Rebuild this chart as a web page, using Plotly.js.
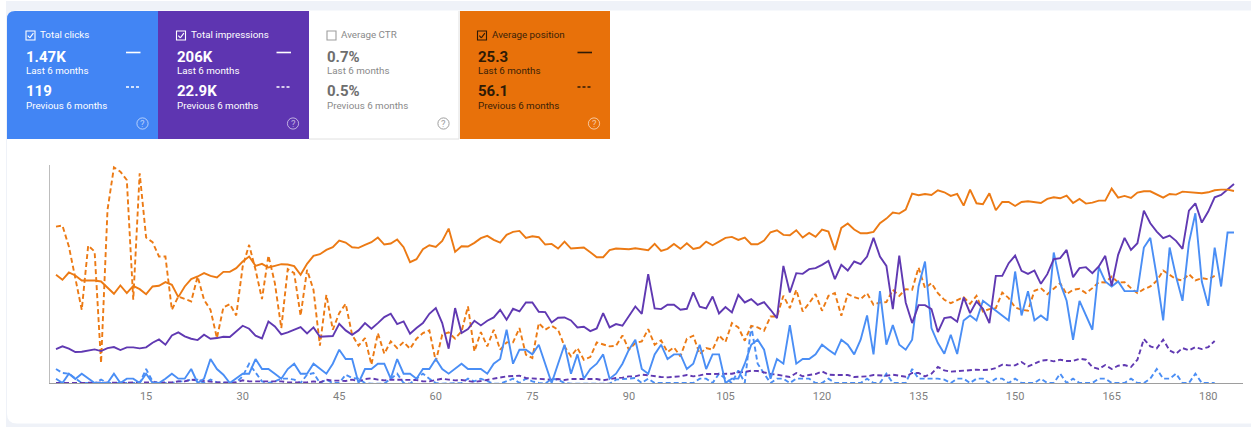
<!DOCTYPE html>
<html>
<head>
<meta charset="utf-8">
<script src="https://cdn.plot.ly/plotly-3.0.1.min.js"></script>
<style>html,body{margin:0;padding:0;background:#fff;overflow:hidden}#chart{width:1251px;height:427px}</style>
</head>
<body>
<div id="chart"></div>
<script>
// Values, on the hidden y axis (which runs downward: 670 = the baseline).
const days = Array.from({length: 184}, (_, i) => i + 1);
const tickValues = [15,30,45,60,75,90,105,120,135,150,165,180];

const positionLast = [
345,360,338,347,362,362,362,365,385,402,377,400,378,388,403,380,378,367,375,412,380,358,350,340,348,353,336,336,325,305,290,318,312,323,318,313,314,319,345,312,288,283,270,262,242,
248,262,264,255,247,233,254,251,239,262,307,298,268,256,261,243,206,276,259,260,249,235,228,240,248,225,216,213,234,229,232,254,252,266,245,266,265,263,277,292,292,271,266,267,268,
265,267,271,252,273,267,252,267,250,267,263,245,256,245,234,231,240,233,253,253,242,217,211,225,226,211,233,219,231,209,215,270,204,191,209,220,220,216,190,176,158,161,149,101,106,102,105,
91,97,108,102,137,89,130,133,100,151,126,126,138,126,124,126,129,117,112,115,107,129,117,131,128,122,122,86,113,108,114,98,94,94,103,113,102,104,95,97,100,100,97,91,89,89,93];

const positionPrevious = [
200,197,260,350,450,257,275,610,150,22,35,60,420,40,233,247,290,290,450,410,418,425,350,420,450,535,443,433,467,320,255,330,418,287,370,505,328,340,468,330,390,558,405,510,460,
432,525,558,535,615,520,582,545,565,547,567,537,520,512,605,525,518,537,515,440,575,517,560,510,570,548,548,505,585,595,490,510,498,510,560,590,565,600,592,548,555,560,558,527,570,
550,545,508,555,542,577,563,590,537,528,583,565,570,527,547,490,503,543,498,503,513,470,470,408,445,390,455,430,403,453,408,400,468,403,412,418,400,435,428,427,390,408,388,390,323,385,370,
400,420,430,420,412,432,408,455,448,445,398,415,443,450,453,393,385,403,385,370,403,390,387,400,385,367,368,350,368,367,385,400,388,380,363,332,345,358,362,343,362,355,358,348];

const impressionsLast = [
568,560,567,577,576,572,569,574,565,562,571,563,563,566,563,549,539,555,527,518,530,537,541,525,537,535,531,532,514,498,507,528,536,485,500,524,518,510,502,521,503,531,531,529,492,
512,525,512,490,507,490,472,462,493,485,522,505,490,462,445,490,567,445,520,508,483,497,483,473,450,480,447,455,428,428,456,457,488,474,473,482,503,501,514,506,460,503,493,498,470,
440,462,343,446,448,435,435,450,447,398,441,446,410,461,442,458,405,428,418,435,427,450,475,318,398,340,342,328,325,315,303,358,315,332,305,313,290,234,290,318,448,287,428,490,436,436,448,
517,475,472,486,413,460,425,447,490,348,348,310,287,333,342,332,372,343,298,295,270,352,325,322,340,320,288,378,285,234,270,250,152,190,215,235,227,243,267,152,130,188,155,112,105,88,72];

const impressionsPrevious = [
670,670,670,670,670,670,670,670,670,670,670,670,670,670,670,670,670,670,668,665,665,660,662,665,665,668,668,668,668,662,665,665,665,665,665,665,668,668,668,668,665,668,660,663,663,
664,660,665,658,656,660,662,660,660,661,662,661,665,665,661,657,660,662,661,664,667,664,660,656,652,650,649,648,655,656,657,658,660,658,661,658,658,658,656,658,662,658,655,654,650,
650,645,647,650,652,653,652,650,646,650,647,643,643,643,642,642,638,637,633,634,638,643,645,648,652,640,650,646,643,635,645,646,646,646,652,651,650,646,648,648,645,647,651,640,640,650,642,
622,632,636,634,632,630,630,631,630,625,615,617,617,607,620,612,603,601,605,600,604,604,597,600,622,628,616,628,618,616,622,600,538,560,566,540,572,582,565,572,562,568,562,544];

const clicksLast = [
657,670,642,658,642,657,670,670,670,642,670,657,657,670,642,670,670,657,642,657,657,628,670,657,598,628,645,670,657,642,642,598,628,628,642,657,628,612,642,642,612,628,642,612,570,
598,598,670,628,628,612,612,657,598,642,642,657,628,628,598,628,642,628,612,628,628,628,642,612,598,510,612,570,570,584,555,612,670,612,555,642,584,657,628,612,584,657,642,612,570,
540,628,642,584,555,598,584,584,628,612,555,628,584,584,670,657,657,612,555,540,570,657,598,612,496,612,598,598,584,555,570,584,540,555,584,540,467,584,394,555,496,555,570,540,380,305,505,
550,582,525,583,482,467,482,423,438,452,467,482,335,467,394,482,467,482,278,370,423,540,423,467,510,322,365,380,365,394,394,394,263,234,350,482,263,350,423,249,160,365,438,263,380,218,218];

const clicksPrevious = [
628,640,642,655,670,670,670,660,670,670,670,670,670,670,628,665,670,670,670,665,665,660,660,670,660,668,670,670,668,650,612,640,665,670,665,657,657,660,670,645,640,670,660,670,670,
645,655,657,670,672,672,672,657,642,670,672,657,642,657,670,672,672,672,670,657,665,657,665,672,672,665,657,670,657,665,670,672,657,660,670,672,672,672,672,672,672,672,660,658,655,
655,670,657,670,670,670,670,670,670,670,657,657,670,642,657,670,632,670,498,612,642,670,657,657,670,657,657,657,670,670,657,670,670,670,670,670,657,670,670,642,670,670,670,628,657,657,657,
657,660,670,657,657,670,657,657,670,657,657,670,657,670,670,670,657,670,670,642,670,657,670,670,670,657,657,670,670,670,657,670,670,657,628,657,657,642,670,670,642,670,670,670];

const tileNames = ["Total clicks","Total impressions","Average CTR","Average position"];
const tileLast = ["1.47K","206K","0.7%","25.3"];
const tilePrevious = ["119","22.9K","0.5%","56.1"];
const periodLast = "Last 6 months";
const periodPrevious = "Previous 6 months";

const BLUE="#4285f4", PURPLE="#5e35b1", ORANGE="#e8710a";
const W=1251, H=427;
const px=x=>x/W, py=y=>1-y/H;

const tileStyle = [
 {x:7,   w:151, left:26,    fill:BLUE,     ink:"#ffffff", sub:"#ffffff", box:"#ffffff", help:"rgba(255,255,255,0.6)", on:true},
 {x:158, w:151, left:176.5, fill:PURPLE,   ink:"#ffffff", sub:"#ffffff", box:"#ffffff", help:"rgba(255,255,255,0.6)", on:true},
 {x:309, w:150, left:327,   fill:"#ffffff",ink:"#6e6e6e", sub:"#8a8a8a", box:"#9e9e9e", help:"#9e9e9e", on:false},
 {x:460, w:150, left:477.5, fill:ORANGE,   ink:"#2e1a06", sub:"#3a2208", box:"#2e1a06", help:"rgba(255,255,255,0.6)", on:true}
];

const shapes=[], annotations=[];
function rect(x0,y0,x1,y1,fill,line,lw){
  shapes.push({type:"rect",xref:"paper",yref:"paper",x0:px(x0),x1:px(x1),y0:py(y0),y1:py(y1),
    fillcolor:fill,line:{color:line||"rgba(0,0,0,0)",width:lw||0},layer:"above"});
}
function seg(x0,y0,x1,y1,color,width,dash){
  shapes.push({type:"line",xref:"paper",yref:"paper",x0:px(x0),x1:px(x1),y0:py(y0),y1:py(y1),
    line:{color:color,width:width,dash:dash||"solid"},layer:"above"});
}
function label(x,y,text,size,color,weight,anchor){
  annotations.push({xref:"paper",yref:"paper",x:px(x),y:py(y),text:text,showarrow:false,
    xanchor:anchor||"left",yanchor:"middle",borderpad:0,borderwidth:0,
    font:{family:"Roboto, sans-serif",size:size,color:color,weight:weight||400}});
}

// page background and the white card with rounded left corners
shapes.push({type:"rect",xref:"paper",yref:"paper",x0:px(6),x1:1,y0:0,y1:py(1),fillcolor:"#eff2f8",line:{width:0},layer:"below"});
{
  const x0=px(7),x1=1,yt=py(10.5),yb=py(423.5),rx=px(17),ryb=py(413.5),ryt=py(18.5);
  shapes.push({type:"path",xref:"paper",yref:"paper",layer:"below",fillcolor:"#ffffff",line:{width:0},
    path:`M ${x0},${ryt} Q ${x0},${yt} ${rx},${yt} L ${x1},${yt} L ${x1},${yb} L ${rx},${yb} Q ${x0},${yb} ${x0},${ryb} Z`});
}

tileStyle.forEach((t,i)=>{
  if(i===0){
    const x0=px(t.x),x1=px(t.x+t.w),yt=py(11),yb=py(139),rx=px(t.x+8),ry=py(19);
    shapes.push({type:"path",xref:"paper",yref:"paper",layer:"above",fillcolor:t.fill,line:{width:0},
      path:`M ${x0},${yb} L ${x0},${ry} Q ${x0},${yt} ${rx},${yt} L ${x1},${yt} L ${x1},${yb} Z`});
  } else {
    rect(t.x,11,t.x+t.w,139,t.fill);
  }
  if(!t.on){ seg(t.x,139,t.x+t.w,139,"#e0e0e0",1); seg(t.x+t.w,11,t.x+t.w,139,"#e0e0e0",1); }
  const left=t.left;
  // checkbox
  const cx=left, cy=31;
  rect(cx,cy,cx+9,cy+9,"rgba(0,0,0,0)",t.box,1.1);
  if(t.on){
    seg(cx+1.8,cy+4.6,cx+3.8,cy+6.8,t.box,1.1);
    seg(cx+3.8,cy+6.8,cx+7.4,cy+2.2,t.box,1.1);
  }
  label(left+14,35,tileNames[i],9.8,t.sub);
  label(left,57,tileLast[i],15,t.ink,700);
  label(left,71,periodLast,9.8,t.sub);
  label(left,91,tilePrevious[i],15,t.ink,700);
  label(left,105,periodPrevious,9.8,t.sub);
  // legend keys (an unticked metric has none)
  if(t.on){
    seg(left+100,52.5,left+114.5,52.5,t.ink,1.6);
    seg(left+100,87,left+114.5,87,t.ink,1.6,"3px,2px");
  }
  // help icon
  const hx=left+116.5, hy=123.5, r=5.6;
  shapes.push({type:"circle",xref:"paper",yref:"paper",layer:"above",x0:px(hx-r),x1:px(hx+r),y0:py(hy-r),y1:py(hy+r),
    fillcolor:"rgba(0,0,0,0)",line:{color:t.help,width:1}});
  label(hx,hy,"?",9.5,t.help,400,"center");
});

const line=(y,name,color,dash)=>({x:days.slice(0,y.length),y:y,name:name,type:"scatter",mode:"lines",cliponaxis:false,
  line:{color:color,width:1.9,dash:dash||"solid"},hoverinfo:"skip"});
const DASH="5px,3px";
const LINE_BLUE="#4a8ef5", LINE_PURPLE="#6039b2", LINE_ORANGE="#ec7a14";
const data=[
  line(clicksPrevious,"Clicks, previous 6 months",LINE_BLUE,DASH),
  line(impressionsPrevious,"Impressions, previous 6 months",LINE_PURPLE,DASH),
  line(positionPrevious,"Position, previous 6 months",LINE_ORANGE,DASH),
  line(clicksLast,"Clicks, last 6 months",LINE_BLUE),
  line(impressionsLast,"Impressions, last 6 months",LINE_PURPLE),
  line(positionLast,"Position, last 6 months",LINE_ORANGE)
];

const layout={
  width:W,height:H,margin:{l:0,r:0,t:0,b:0,pad:0},
  paper_bgcolor:"#ffffff",plot_bgcolor:"rgba(0,0,0,0)",showlegend:false,
  font:{family:"Roboto, sans-serif"},
  xaxis:{domain:[px(49.5),px(1243)],range:[-0.01,185.4],tickvals:tickValues,ticktext:tickValues.map(String),
    tickmode:"array",ticks:"",showgrid:false,zeroline:false,showline:true,linecolor:"#9e9e9e",linewidth:1,
    ticklabelstandoff:3,
    tickfont:{family:"Roboto, sans-serif",size:11,color:"#808080"},anchor:"y"},
  yaxis:{domain:[py(383),py(165)],range:[670,15],showticklabels:false,ticks:"",showgrid:false,zeroline:false,
    showline:true,linecolor:"#bdbdbd",linewidth:1,anchor:"x"},
  shapes:shapes,annotations:annotations
};
Plotly.newPlot("chart",data,layout,{displayModeBar:false,staticPlot:true});
</script>
</body>
</html>
